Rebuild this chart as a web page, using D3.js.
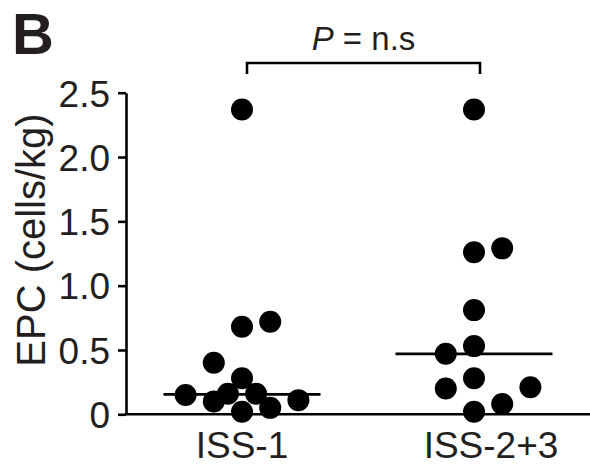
<!DOCTYPE html>
<html>
<head>
<meta charset="utf-8">
<script src="https://cdn.jsdelivr.net/npm/d3@7"></script>
<style>
  html, body { margin: 0; padding: 0; background: #fff; }
  svg { display: block; }
</style>
</head>
<body>
<div id="chart"></div>
<script>
// ------------------------------------------------------------
// Data
// ------------------------------------------------------------
const groups = ["ISS-1", "ISS-2+3"];

// EPC values per patient, cells/kg
const iss1Values = [2.37, 0.72, 0.68, 0.40, 0.28, 0.16, 0.16, 0.15, 0.11, 0.10, 0.05, 0.02];
// swarm slot of each dot (left/right of the group centre)
const iss1Slots  = [0, 2, 0, -2, 0, -1, 1, -4, 4, -2, 2, 0];

const iss23Values = [2.37, 1.29, 1.26, 0.81, 0.53, 0.47, 0.28, 0.21, 0.20, 0.08, 0.02];
const iss23Slots  = [0, 2, 0, 0, 0, -2, 0, 4, -2, 2, 0];

const medians = [0.155, 0.47];

const yTicks = [0, 0.5, 1.0, 1.5, 2.0, 2.5];
const yTickLabels = ["0", "0.5", "1.0", "1.5", "2.0", "2.5"];

// ------------------------------------------------------------
// Layout
// ------------------------------------------------------------
const W = 590, H = 470;
const FONT = "'Liberation Sans', Arial, Helvetica, sans-serif";
const INK = "#000";
const TEXT = "#231f20";

const axisX = 126;
const plotTop = 92.7, plotBottom = 414.3;

const svg = d3.select("#chart").append("svg")
  .attr("width", W)
  .attr("height", H)
  .attr("viewBox", `0 0 ${W} ${H}`);

const y = d3.scaleLinear().domain([0, 2.5]).range([plotBottom, plotTop]);
const x = d3.scalePoint().domain(groups).range([axisX, W]).padding(0.5);
const slot = d3.scaleLinear().domain([-1, 1]).range([-14.1, 14.1]);

// ------------------------------------------------------------
// Axes
// ------------------------------------------------------------
const yAxis = d3.axisLeft(y)
  .tickValues(yTicks)
  .tickFormat((d, i) => yTickLabels[i])
  .tickSizeInner(8)
  .tickSizeOuter(0)
  .tickPadding(8);

const yG = svg.append("g")
  .attr("transform", `translate(${axisX},0)`)
  .call(yAxis);

yG.select(".domain").attr("stroke", INK).attr("stroke-width", 2.6);
yG.selectAll(".tick line").attr("stroke", INK).attr("stroke-width", 2.6);
yG.selectAll(".tick text")
  .attr("font-family", FONT)
  .attr("font-size", "37px")
  .attr("fill", TEXT)
  .attr("dy", "0.36em");

// x baseline runs to the right edge
svg.append("line")
  .attr("x1", axisX - 1.3).attr("x2", W)
  .attr("y1", y(0)).attr("y2", y(0))
  .attr("stroke", INK)
  .attr("stroke-width", 2.6);

// group labels
const labelShift = { "ISS-1": 0, "ISS-2+3": 17 };
svg.append("g").selectAll("text")
  .data(groups)
  .join("text")
  .attr("x", (d) => x(d) + labelShift[d])
  .attr("y", 458)
  .attr("text-anchor", "middle")
  .attr("font-family", FONT)
  .attr("font-size", "37px")
  .attr("fill", TEXT)
  .text((d) => d);

// y title
svg.append("text")
  .attr("transform", `translate(45,240) rotate(-90)`)
  .attr("text-anchor", "middle")
  .attr("font-family", FONT)
  .attr("font-size", "40px")
  .attr("fill", TEXT)
  .text("EPC (cells/kg)");

// panel letter
svg.append("text")
  .attr("x", 12)
  .attr("y", 54)
  .attr("font-family", FONT)
  .attr("font-size", "58px")
  .attr("font-weight", "700")
  .attr("fill", TEXT)
  .text("B");

// ------------------------------------------------------------
// Dots + medians
// ------------------------------------------------------------
const series = [
  { group: groups[0], values: iss1Values, slots: iss1Slots, median: medians[0] },
  { group: groups[1], values: iss23Values, slots: iss23Slots, median: medians[1] },
];

const medG = svg.append("g");
const dotG = svg.append("g");

series.forEach((s) => {
  dotG.append("g").selectAll("circle")
    .data(s.values)
    .join("circle")
    .attr("cx", (d, i) => x(s.group) + slot(s.slots[i]))
    .attr("cy", (d) => y(d))
    .attr("r", 11)
    .attr("fill", INK);

  medG.append("line")
    .attr("x1", x(s.group) - 78.5)
    .attr("x2", x(s.group) + 78.5)
    .attr("y1", y(s.median))
    .attr("y2", y(s.median))
    .attr("stroke", INK)
    .attr("stroke-width", 2.8);
});

// ------------------------------------------------------------
// Significance bracket
// ------------------------------------------------------------
const bx1 = x(groups[0]) + 5, bx2 = x(groups[1]) + 6;
const by = 63, tickDown = 11;

svg.append("path")
  .attr("d", `M${bx1},${by + tickDown} V${by} H${bx2} V${by + tickDown}`)
  .attr("fill", "none")
  .attr("stroke", INK)
  .attr("stroke-width", 2.6);

const pLabel = svg.append("text")
  .attr("x", (bx1 + bx2) / 2)
  .attr("y", 50)
  .attr("text-anchor", "middle")
  .attr("font-family", FONT)
  .attr("font-size", "33px")
  .attr("fill", TEXT);
pLabel.append("tspan").attr("font-style", "italic").text("P");
pLabel.append("tspan").text(" = n.s");
</script>
</body>
</html>
